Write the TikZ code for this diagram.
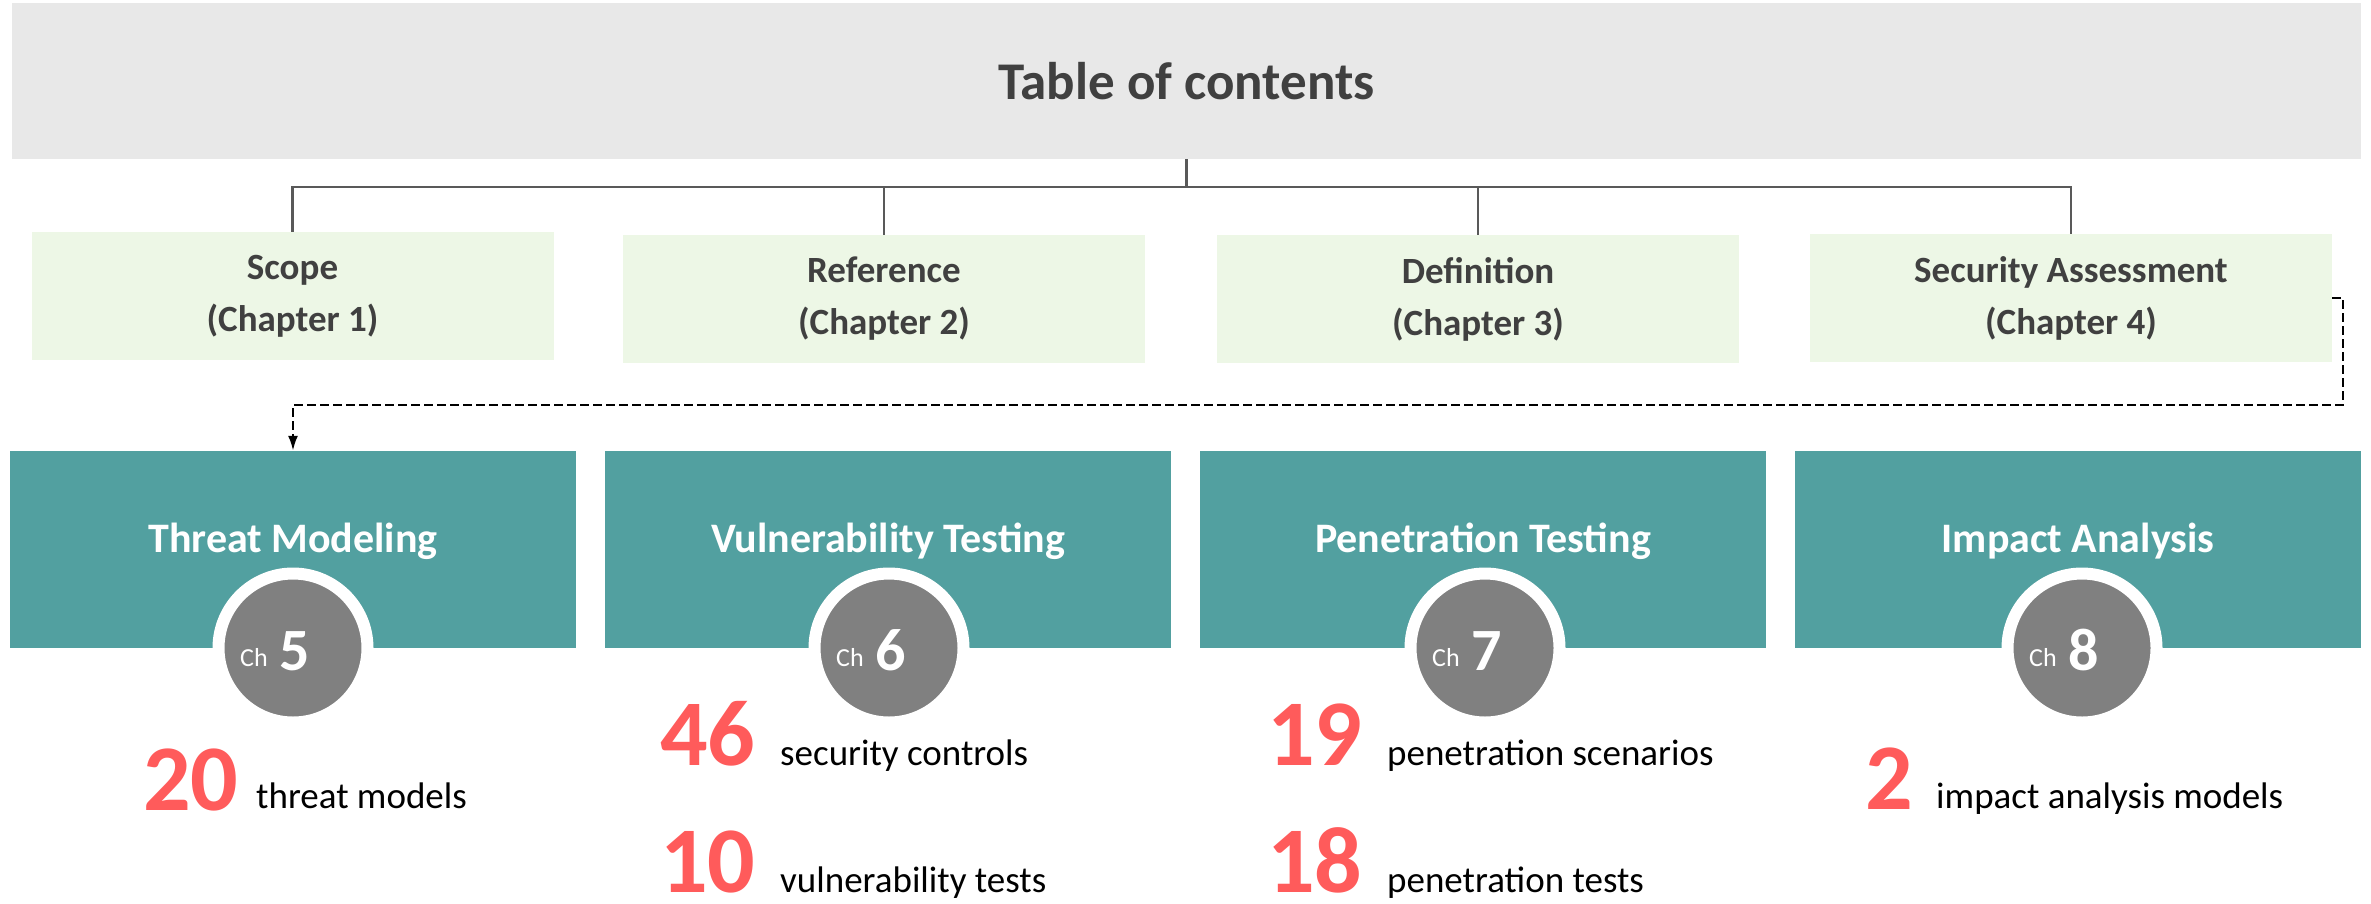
\documentclass[tikz,border=0pt]{standalone}
\usepackage{fontspec}
\setmainfont{Carlito}
\usetikzlibrary{arrows.meta}

\definecolor{tocgray}{HTML}{E8E8E8}
\definecolor{inktext}{HTML}{404040}
\definecolor{chapgreen}{HTML}{EDF7E6}
\definecolor{treeline}{HTML}{595959}
\definecolor{partteal}{HTML}{52A0A0}
\definecolor{chgray}{HTML}{808080}
\definecolor{countred}{HTML}{FF5B5B}

\begin{document}
\begin{tikzpicture}[x=1pt,y=-1pt,
  tocbox/.style={rectangle, fill=tocgray, minimum width=2349pt, minimum height=156pt,
    inner sep=0pt, text=inktext, font=\fontsize{53}{60}\selectfont\bfseries},
  chapbox/.style={rectangle, fill=chapgreen, minimum width=522pt, minimum height=128pt,
    inner sep=0pt, align=center, text=inktext, font=\fontsize{37}{52}\selectfont\bfseries},
  partbox/.style={rectangle, fill=partteal, minimum width=566pt, minimum height=197pt, inner sep=0pt},
  parttitle/.style={anchor=base, inner sep=0pt, text=white, font=\fontsize{42}{48}\selectfont\bfseries},
  chcircle/.style={circle, fill=chgray, draw=white, line width=12pt, minimum size=149pt, inner sep=0pt},
  chsmall/.style={anchor=base west, inner sep=0pt, text=white, font=\fontsize{26}{30}\selectfont},
  chnum/.style={anchor=base west, inner sep=0pt, text=white, font=\fontsize{60}{66}\selectfont\bfseries},
  count/.style={anchor=base west, inner sep=0pt, text=countred, font=\fontsize{94}{100}\selectfont\bfseries},
  countlabel/.style={anchor=base west, inner sep=0pt, text=black, font=\fontsize{37}{42}\selectfont},
  tree/.style={draw=treeline, line width=2.6pt},
  dasharrow/.style={draw=black, line width=2.4pt, dash pattern=on 9pt off 4pt,
    -{Latex[length=15pt,width=10pt]}}
]
\useasboundingbox (0,0) rectangle (2371,903);

% header
\node[tocbox] (toc) at (1186.5,81) {Table of contents};

% first four chapters
\node[chapbox] (scope) at (292.5,296) {Scope\\(Chapter 1)};
\node[chapbox] (ref)   at (884,299)   {Reference\\(Chapter 2)};
\node[chapbox] (def)   at (1478,299)  {Definition\\(Chapter 3)};
\node[chapbox] (sec)   at (2071,298)  {Security Assessment\\(Chapter 4)};

% tree from the header to the chapters
\coordinate (bus) at (1185,187);
\draw[tree] (toc.south) -- (toc.south |- bus);
\draw[tree] (scope.north) |- (bus) -| (sec.north);
\draw[tree] (ref.north) -- (ref.north |- bus);
\draw[tree] (def.north) -- (def.north |- bus);

% second part: chapters 5 to 8
\node[partbox] (tm)  at (293,549.5)  {};
\node[partbox] (vt)  at (888,549.5)  {};
\node[partbox] (pt)  at (1483,549.5) {};
\node[partbox] (ia)  at (2078,549.5) {};

\node[parttitle] (tmt) at (293,552)  {Threat Modeling};
\node[parttitle] (vtt) at (888,552)  {Vulnerability Testing};
\node[parttitle] (ptt) at (1483,552) {Penetration Testing};
\node[parttitle] (iat) at (2078,552) {Impact Analysis};

% chapter badges
\foreach \nm/\cx/\num in {c5/293/5, c6/889/6, c7/1485/7, c8/2082/8}{
  \node[chcircle] (\nm) at (\cx,648) {};
  \node[chsmall, xshift=-53pt, yshift=-18pt] (\nm ch) at (\nm) {Ch};
  \node[chnum, xshift=-14pt, yshift=-22pt] (\nm n) at (\nm) {\num};
}

% dashed link from chapter 4 to chapter 5
\coordinate (loop) at (2343,405);
\draw[dasharrow] (sec.east) -| (loop) -| (tm.north);

% counts
\node[count] (n20) at (143,810) {20};
\node[countlabel] (l20) at (256,808) {threat models};

\node[count] (n46) at (660,765) {46};
\node[countlabel] (l46) at (780,765) {security controls};
\node[count] (n10) at (660,892) {10};
\node[countlabel] (l10) at (780,892) {vulnerability tests};

\node[count] (n19) at (1267,765) {19};
\node[countlabel] (l19) at (1387,765) {penetration scenarios};
\node[count] (n18) at (1267,892) {18};
\node[countlabel] (l18) at (1387,892) {penetration tests};

\node[count] (n2) at (1865,809) {2};
\node[countlabel] (l2) at (1936,808) {impact analysis models};
\end{tikzpicture}
\end{document}
